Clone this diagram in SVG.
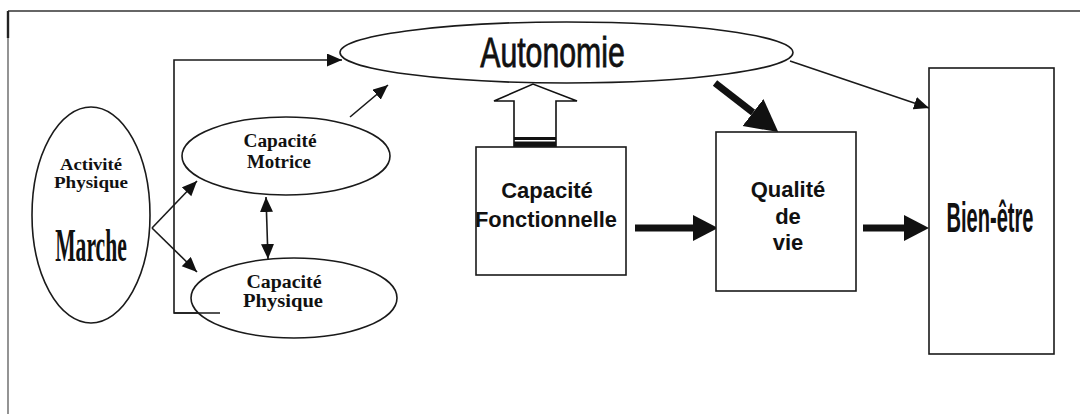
<svg xmlns="http://www.w3.org/2000/svg" width="1080" height="414" viewBox="0 0 1080 414">
<style>
.shape{fill:#fff;stroke:#1a1a1a;stroke-width:1.6}
.line{fill:none;stroke:#1a1a1a;stroke-width:1.6}
.thick{fill:none;stroke:#111;stroke-width:7}
.serif{font-family:"Liberation Serif","Times New Roman",serif;font-weight:bold;fill:#111;text-anchor:middle}
.sans{font-family:"Liberation Sans",Arial,sans-serif;font-weight:bold;fill:#111;text-anchor:middle}
</style>
<defs>
<marker id="ah" markerUnits="userSpaceOnUse" markerWidth="16" markerHeight="14" refX="15" refY="6.5" orient="auto-start-reverse">
<path d="M0,0 L15,6.5 L0,13 z" fill="#111"/>
</marker>
<marker id="big" markerUnits="userSpaceOnUse" markerWidth="28" markerHeight="28" refX="0" refY="13" orient="auto">
<path d="M0,0 L25,13 L0,26 z" fill="#111"/>
</marker>
<marker id="huge" markerUnits="userSpaceOnUse" markerWidth="34" markerHeight="36" refX="0" refY="17" orient="auto">
<path d="M0,0 L32,17 L0,34 z" fill="#111"/>
</marker>
</defs>
<rect width="1080" height="414" fill="#fff"/>
<g id="frame">
<line x1="8" y1="11" x2="1080" y2="11" stroke="#333" stroke-width="1.6"/>
<line x1="8" y1="11" x2="8" y2="414" stroke="#666" stroke-width="1.4"/>
<line x1="8" y1="11" x2="8" y2="38" stroke="#222" stroke-width="2.4"/>
</g>
<g id="connectors">
<path class="line" d="M220,313 H174 V60 H342" marker-end="url(#ah)"/>
<line class="line" x1="152" y1="228" x2="197" y2="181" marker-end="url(#ah)"/>
<line class="line" x1="152" y1="228" x2="197" y2="272" marker-end="url(#ah)"/>
<line class="line" x1="266" y1="197" x2="268" y2="259" marker-start="url(#ah)" marker-end="url(#ah)"/>
<line class="line" x1="350" y1="117" x2="388" y2="85" marker-end="url(#ah)"/>
<line class="line" x1="790" y1="61" x2="929" y2="108" marker-end="url(#ah)"/>
<line class="thick" x1="715" y1="83" x2="753" y2="112.5" stroke-width="8" marker-end="url(#huge)"/>
<line class="thick" x1="635" y1="228" x2="693" y2="228" marker-end="url(#big)"/>
<line class="thick" x1="863" y1="228" x2="904" y2="228" marker-end="url(#big)"/>
<g id="hollow-arrow">
<path d="M514,147 V101 H494 L533,84 L577,101 H556 V147" fill="#fff" stroke="#111" stroke-width="1.6"/>
<rect x="514" y="137" width="42" height="3" fill="#111"/>
<rect x="514" y="141.5" width="42" height="6" fill="#111"/>
</g>
</g>
<g id="marche">
<ellipse class="shape" cx="91" cy="215" rx="59" ry="108"/>
<text class="serif" x="91" y="170" font-size="16" textLength="62" lengthAdjust="spacingAndGlyphs">Activité</text>
<text class="serif" x="91" y="188" font-size="16" textLength="74" lengthAdjust="spacingAndGlyphs">Physique</text>
<text class="serif" transform="translate(91,261) scale(0.47,1)" x="0" y="0" font-size="46">Marche</text>
</g>
<g id="motrice">
<ellipse class="shape" cx="286" cy="156" rx="104" ry="39"/>
<text class="serif" x="280" y="147" font-size="18" textLength="73" lengthAdjust="spacingAndGlyphs">Capacité</text>
<text class="serif" x="279" y="168" font-size="18" textLength="64" lengthAdjust="spacingAndGlyphs">Motrice</text>
</g>
<g id="physique">
<ellipse class="shape" cx="294" cy="298" rx="103" ry="40"/>
<line class="line" x1="174" y1="313" x2="220" y2="313"/>
<text class="serif" x="284" y="288" font-size="18" textLength="75" lengthAdjust="spacingAndGlyphs">Capacité</text>
<text class="serif" x="283" y="307" font-size="18" textLength="80" lengthAdjust="spacingAndGlyphs">Physique</text>
</g>
<g id="autonomie">
<ellipse class="shape" cx="566.5" cy="52.5" rx="226.5" ry="30.5"/>
<text class="sans" transform="translate(552.5,67) scale(0.72,1)" x="0" y="0" font-size="42" style="font-weight:normal" stroke="#111" stroke-width="0.8">Autonomie</text>
</g>
<g id="fonctionnelle">
<rect class="shape" x="476" y="147" width="150" height="128"/>
<text class="sans" x="547" y="198" font-size="22">Capacité</text>
<text class="sans" x="546" y="227" font-size="22" textLength="142" lengthAdjust="spacingAndGlyphs">Fonctionnelle</text>
</g>
<g id="qualite">
<rect class="shape" x="716" y="132" width="140" height="159"/>
<text class="sans" x="788" y="197" font-size="22">Qualité</text>
<text class="sans" x="788" y="224" font-size="22">de</text>
<text class="sans" x="788" y="250" font-size="22">vie</text>
</g>
<g id="bienetre">
<rect class="shape" x="929" y="68" width="125" height="286"/>
<text class="sans" transform="translate(990,232) scale(0.467,1)" x="0" y="0" font-size="43">Bien-être</text>
</g>
</svg>
